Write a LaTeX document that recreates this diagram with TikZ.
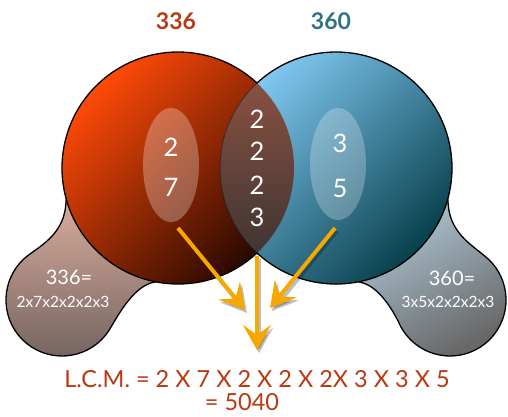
\documentclass[tikz,border=0pt]{standalone}
\usepackage{fontspec}
\setmainfont{Lato}
\usetikzlibrary{arrows.meta}
\definecolor{rustc}{HTML}{B83A12}
\definecolor{tealc}{HTML}{2F7385}
\definecolor{arrowc}{HTML}{F7A800}
\definecolor{lbtop}{HTML}{EDBAA8}
\definecolor{lbbot}{HTML}{746460}
\definecolor{rbtop}{HTML}{BEDCEE}
\definecolor{rbbot}{HTML}{686868}
\definecolor{lctop}{RGB}{255,74,8}
\definecolor{lcmid}{RGB}{185,55,12}
\definecolor{lcbot}{RGB}{40,8,0}
\definecolor{rctop}{RGB}{128,200,242}
\definecolor{rcmid}{RGB}{56,136,166}
\definecolor{rcbot}{RGB}{8,64,76}
\definecolor{lenstop}{RGB}{150,86,68}
\definecolor{lensbot}{RGB}{50,48,48}
\tikzset{
  digit/.style={text=white, font=\fontsize{25.5}{28}\selectfont},
  blobtxt/.style={text=white, font=\fontsize{20}{22}\selectfont},
  blobsmall/.style={text=white, font=\fontsize{15.5}{18}\selectfont},
  toplabel/.style={font=\bfseries\fontsize{23}{26}\selectfont},
  bottomtxt/.style={text=rustc, font=\fontsize{23.5}{26}\selectfont, anchor=base, inner sep=0pt, text depth=0pt},
  arr/.style={draw=arrowc, line width=4pt, -{Stealth[length=25pt, width=28pt, inset=10pt]}},
  arrshadow/.style={draw=black, opacity=0.25, line width=4pt, -{Stealth[length=25pt, width=28pt, inset=10pt]}},
  outline/.style={draw=black, line width=1.3pt},
}
\begin{document}
\begin{tikzpicture}[x=1pt,y=-1pt]
\useasboundingbox (0,0) rectangle (508,416);
% left blob
\path[top color=lbtop, bottom color=lbbot, outline]
  (66,200) .. controls (66,232) and (42,245) .. (28.2,255.3)
  arc[start angle=232.9, end angle=28.4, radius=56]
  .. controls (120,312) and (135,285) .. (155,282) -- (178,168) -- cycle;
% right blob
\path[top color=rbtop, bottom color=rbbot, shading angle=30, outline]
  (448,200) .. controls (448,232) and (472,245) .. (483.8,255.3)
  arc[start angle=-52.9, end angle=151.6, radius=56]
  .. controls (394,312) and (379,285) .. (359,282) -- (336,168) -- cycle;
% circles
\shade[top color=lctop, middle color=lcmid, bottom color=lcbot, shading angle=45] (178,168) circle (116);
\shade[top color=rctop, middle color=rcmid, bottom color=rcbot, shading angle=45] (336,168) circle (116);
% lens
\begin{scope}
  \clip (178,168) circle (116);
  \shade[top color=lenstop, bottom color=lensbot] (336,168) circle (116);
  \draw[black, opacity=0.5, line width=0.8pt] (336,168) circle (116);
\end{scope}
% outlines
\begin{scope}[even odd rule]
  \clip (-10,-10) rectangle (520,430) (336,168) circle (116);
  \draw[outline] (178,168) circle (116);
\end{scope}
\begin{scope}[even odd rule]
  \clip (-10,-10) rectangle (520,430) (178,168) circle (116);
  \draw[outline] (336,168) circle (116);
\end{scope}
% inner ellipses
\fill[white, opacity=0.28] (171,165) ellipse [x radius=28, y radius=57];
\fill[white, opacity=0.25] (338,164) ellipse [x radius=28, y radius=56];
% digits
\node[digit] (l1) at (171,147) {2};
\node[digit] (l2) at (171,187) {7};
\node[digit] (m1) at (257,119) {2};
\node[digit] (m2) at (257,151) {2};
\node[digit] (m3) at (257,185) {2};
\node[digit] (m4) at (257,217) {3};
\node[digit] (r1) at (340,143) {3};
\node[digit] (r2) at (340,188) {5};
% top labels
\node[toplabel, text=rustc] (t1) at (176,21) {336};
\node[toplabel, text=tealc] (t2) at (331,21) {360};
% blob texts
\node[blobtxt] (b1) at (69,277) {336=};
\node[blobsmall] (b2) at (63,302) {2x7x2x2x2x3};
\node[blobtxt] (c1) at (452,278) {360=};
\node[blobsmall] (c2) at (448,302) {3x5x2x2x2x3};
% arrows
\coordinate (a1s) at (178,228); \coordinate (a1e) at (245,310);
\coordinate (a2s) at (335,228); \coordinate (a2e) at (270,308);
\coordinate (a3s) at (257,256); \coordinate (a3e) at (257,350);
\draw[arrshadow, transform canvas={shift={(2pt,-3pt)}}] (a1s) -- (a1e);
\draw[arrshadow, transform canvas={shift={(2pt,-3pt)}}] (a2s) -- (a2e);
\draw[arrshadow, transform canvas={shift={(2pt,-3pt)}}] (a3s) -- (a3e);
\draw[arr] (a1s) -- (a1e);
\draw[arr] (a2s) -- (a2e);
\draw[arr] (a3s) -- (a3e);
% bottom text
\node[bottomtxt] (lcm) at (257,387) {L.C.M. = 2 X 7 X 2 X 2 X 2X 3 X 3 X 5};
\node[bottomtxt] (res) at (242,410) {= 5040};
\end{tikzpicture}
\end{document}
